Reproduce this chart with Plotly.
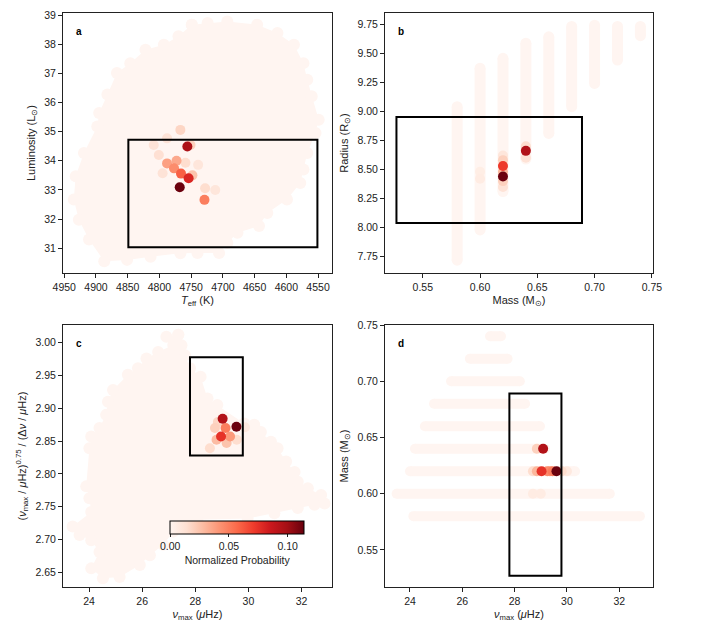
import plotly.graph_objects as go

# ---- data ----
# panel a: outline of the model cloud (Teff, L)
a_cloud_teff = [4749, 4724, 4693, 4646, 4614, 4588, 4573, 4567, 4560, 4549, 4554, 4567,
                4573, 4578, 4599, 4630, 4643, 4677, 4693, 4706, 4740, 4767, 4814, 4851,
                4887, 4911, 4927, 4935, 4932, 4919, 4898, 4895, 4882, 4867, 4846, 4822,
                4793, 4770]
a_cloud_lum = [38.67, 38.73, 38.78, 38.67, 38.38, 37.98, 37.35, 36.78, 36.21, 35.41, 34.95, 34.27,
               33.70, 33.24, 32.67, 32.21, 31.76, 31.53, 31.18, 30.84, 30.84, 30.83, 30.71, 30.60,
               30.55, 31.30, 31.98, 32.67, 33.47, 34.27, 35.18, 35.64, 36.27, 37.01, 37.35, 37.81,
               37.98, 38.27]
# panel a: high-probability models
a_teff = [4767, 4809, 4801, 4795, 4751, 4748, 4728, 4712, 4788, 4759, 4739, 4773,
          4788, 4777, 4729, 4766, 4754, 4756, 4768]
a_lum = [35.06, 34.54, 34.20, 33.57, 34.54, 33.50, 33.06, 33.00, 34.77, 33.93, 33.86, 34.00,
         33.91, 33.74, 32.66, 33.56, 33.40, 34.49, 33.09]
a_prob = [0.018, 0.012, 0.014, 0.012, 0.020, 0.025, 0.015, 0.010, 0.012, 0.015, 0.010, 0.035,
          0.038, 0.045, 0.050, 0.060, 0.080, 0.097, 0.113]
a_box = [4849, 4551, 31.03, 34.72]

# panel b: mass tracks (mass, radius range)
b_mass = [0.58, 0.60, 0.62, 0.64, 0.66, 0.68, 0.70, 0.72, 0.74]
b_rad_lo = [7.72, 7.98, 8.31, 8.59, 8.81, 9.04, 9.24, 9.44, 9.65]
b_rad_hi = [9.04, 9.37, 9.455, 9.585, 9.64, 9.73, 9.74, 9.73, 9.73]
b_hi_mass = [0.60, 0.60, 0.62, 0.62, 0.64, 0.62, 0.64, 0.62, 0.62, 0.62, 0.64, 0.62]
b_hi_rad = [8.42, 8.48, 8.62, 8.35, 8.60, 8.58, 8.70, 8.40, 8.48, 8.53, 8.66, 8.44]
b_hi_prob = [0.006, 0.005, 0.010, 0.012, 0.012, 0.020, 0.015, 0.020, 0.030, 0.072, 0.095, 0.113]
b_box = [0.527, 0.689, 8.04, 8.95]

# panel c: outline of the model cloud (numax, ratio)
c_cloud_nu = [27.36, 27.48, 27.61, 27.80, 28.20, 28.46, 28.83, 29.84, 30.22, 30.47, 30.85, 31.10,
              31.42, 31.74, 31.86, 32.24, 32.74, 32.87, 32.49, 31.86, 30.98, 29.97, 28.08, 27.17,
              26.79, 26.29, 25.91, 25.15, 24.52, 24.08, 24.39, 24.08, 23.64, 23.38, 24.08, 24.01,
              23.89, 24.01, 24.08, 24.39, 24.64, 24.71, 24.90, 25.46, 25.84, 26.16, 26.60, 27.17,
              26.91]
c_cloud_ratio = [3.012, 2.996, 2.981, 2.961, 2.948, 2.915, 2.905, 2.877, 2.875, 2.864, 2.849, 2.839,
                 2.819, 2.803, 2.788, 2.778, 2.768, 2.755, 2.753, 2.748, 2.740, 2.732, 2.730, 2.712,
                 2.692, 2.676, 2.661, 2.643, 2.641, 2.656, 2.681, 2.699, 2.707, 2.720, 2.742, 2.763,
                 2.781, 2.839, 2.857, 2.870, 2.890, 2.910, 2.928, 2.951, 2.961, 2.976, 2.986, 2.9965,
                 3.009]
c_nu = [29.87, 28.55, 29.56, 28.85, 28.74, 29.18, 28.80, 29.31, 29.14, 28.97, 29.03, 29.55]
c_ratio = [2.871, 2.839, 2.852, 2.879, 2.870, 2.847, 2.852, 2.857, 2.870, 2.857, 2.884, 2.872]
c_prob = [0.008, 0.015, 0.015, 0.018, 0.020, 0.025, 0.028, 0.040, 0.050, 0.075, 0.095, 0.113]
c_box = [27.80, 29.79, 2.828, 2.978]

# panel d: mass rows (mass, numax range)
d_mass = [0.58, 0.60, 0.62, 0.64, 0.66, 0.68, 0.70, 0.72, 0.74]
d_nu_lo = [24.13, 23.49, 24.00, 24.19, 24.57, 24.92, 25.57, 26.29, 27.06]
d_nu_hi = [32.79, 31.64, 30.31, 29.16, 28.97, 28.40, 28.20, 27.73, 27.48]
d_hi_nu = [28.70, 29.00, 30.00, 29.80, 28.70, 28.85, 28.85, 29.35, 29.25, 29.45, 29.03, 29.09, 29.60]
d_hi_mass = [0.60, 0.60, 0.62, 0.62, 0.62, 0.64, 0.62, 0.62, 0.62, 0.62, 0.62, 0.64, 0.62]
d_hi_prob = [0.006, 0.006, 0.008, 0.015, 0.015, 0.020, 0.030, 0.040, 0.045, 0.050, 0.075, 0.095, 0.113]
d_box = [27.80, 29.79, 0.527, 0.689]

PMAX = 0.114
CLOUD = '#fff5f1'
FONT = 'Liberation Sans, Arial, sans-serif'
# page is offset by the default 8 px body margin
W, H, OFF = 701, 630, 8


def px_x(p):
    return (p - OFF) / W


def px_y(p):
    return 1 - (p - OFF) / H


fig = go.Figure()


def cloud(xs, ys, xa, ya):
    fig.add_trace(go.Scatter(x=xs + xs[:1], y=ys + ys[:1], mode='lines+markers', fill='toself',
                             fillcolor=CLOUD, line=dict(width=0, color=CLOUD),
                             marker=dict(size=12, color=CLOUD), xaxis=xa, yaxis=ya,
                             hoverinfo='skip', showlegend=False))


def tracks(fixed, lo, hi, vertical, width, xa, ya):
    xs, ys = [], []
    for f, a, b in zip(fixed, lo, hi):
        if vertical:
            xs += [f, f, None]
            ys += [a, b, None]
        else:
            xs += [a, b, None]
            ys += [f, f, None]
    fig.add_trace(go.Scatter(x=xs, y=ys, mode='lines+markers', line=dict(width=width, color=CLOUD),
                             marker=dict(size=width, color=CLOUD), xaxis=xa, yaxis=ya,
                             connectgaps=False, hoverinfo='skip', showlegend=False))


def models(xs, ys, ps, xa, ya, scale=False):
    order = sorted(range(len(ps)), key=lambda i: ps[i])
    fig.add_trace(go.Scatter(
        x=[xs[i] for i in order], y=[ys[i] for i in order], mode='markers',
        marker=dict(size=10, color=[ps[i] for i in order], colorscale='Reds', cmin=0, cmax=PMAX,
                    showscale=scale,
                    colorbar=dict(orientation='h', x=(237.2 - OFF) / W, xanchor='center',
                                  y=px_y(521), yanchor='top', len=134 / W, lenmode='fraction',
                                  thickness=13, xpad=0, ypad=0, outlinewidth=1, outlinecolor='black',
                                  ticks='outside', ticklen=3, tickcolor='#222',
                                  tickvals=[0, 0.05, 0.10], tickformat='.2f',
                                  tickfont=dict(size=10.5, color='#222'),
                                  title=dict(text='Normalized Probability', side='bottom',
                                             font=dict(size=10.5, color='#222')))),
        xaxis=xa, yaxis=ya, showlegend=False))


cloud(a_cloud_teff, a_cloud_lum, 'x', 'y')
models(a_teff, a_lum, a_prob, 'x', 'y')
tracks(b_mass, b_rad_lo, b_rad_hi, True, 11, 'x2', 'y2')
models(b_hi_mass, b_hi_rad, b_hi_prob, 'x2', 'y2')
cloud(c_cloud_nu, c_cloud_ratio, 'x3', 'y3')
models(c_nu, c_ratio, c_prob, 'x3', 'y3', scale=True)
tracks(d_mass, d_nu_lo, d_nu_hi, False, 10, 'x4', 'y4')
models(d_hi_nu, d_hi_mass, d_hi_prob, 'x4', 'y4')

for box, xr, yr in [(a_box, 'x', 'y'), (b_box, 'x2', 'y2'), (c_box, 'x3', 'y3'), (d_box, 'x4', 'y4')]:
    fig.add_shape(type='rect', xref=xr, yref=yr, x0=box[0], x1=box[1], y0=box[2], y1=box[3],
                  line=dict(color='black', width=2))

ax = dict(showline=True, mirror=True, linecolor='#222', linewidth=1, ticks='outside', ticklen=4,
          tickcolor='#222', showgrid=False, zeroline=False, automargin=False,
          tickfont=dict(size=10.5, color='#222'), title_font=dict(size=11, color='#222'))
xl = [px_x(63), px_x(332)]
xr = [px_x(385), px_x(653)]
yt = [px_y(273), px_y(13)]
yb = [px_y(587), px_y(325)]
numax_title = '<i>ν</i><sub>max</sub> (<i>μ</i>Hz)'

fig.update_layout(
    width=W, height=H, margin=dict(l=0, r=0, t=0, b=0, autoexpand=False),
    paper_bgcolor='white', plot_bgcolor='white', font=dict(family=FONT, color='#222'),
    xaxis=dict(ax, domain=xl, anchor='y', range=[4952, 4528], tick0=4550, dtick=50,
               title=dict(text='<i>T</i><sub>eff</sub> (K)', standoff=4)),
    yaxis=dict(ax, domain=yt, anchor='x', range=[30.15, 39.07], dtick=1,
               title=dict(text='Luminosity (L<sub>⊙</sub>)', standoff=6)),
    xaxis2=dict(ax, domain=xr, anchor='y2', range=[0.517, 0.751], dtick=0.05, tickformat='.2f',
                title=dict(text='Mass (M<sub>⊙</sub>)', standoff=4)),
    yaxis2=dict(ax, domain=yt, anchor='x2', range=[7.61, 9.845], dtick=0.25, tickformat='.2f',
                title=dict(text='Radius (R<sub>⊙</sub>)', standoff=6)),
    xaxis3=dict(ax, domain=xl, anchor='y3', range=[23.016, 33.15], dtick=2,
                title=dict(text=numax_title, standoff=4)),
    yaxis3=dict(ax, domain=yb, anchor='x3', range=[2.6276, 3.027], dtick=0.05, tickformat='.2f',
                title=dict(text='(<i>ν</i><sub>max</sub> / <i>μ</i>Hz)<sup>0.75</sup> / (Δ<i>ν</i> / <i>μ</i>Hz)',
                           standoff=6)),
    xaxis4=dict(ax, domain=xr, anchor='y4', range=[23.045, 33.29], dtick=2,
                title=dict(text=numax_title, standoff=4)),
    yaxis4=dict(ax, domain=yb, anchor='x4', range=[0.517, 0.75], dtick=0.05, tickformat='.2f',
                title=dict(text='Mass (M<sub>⊙</sub>)', standoff=6)),
)

for lab, xa, ya in [('a', 'x', 'y'), ('b', 'x2', 'y2'), ('c', 'x3', 'y3'), ('d', 'x4', 'y4')]:
    fig.add_annotation(text='<b>%s</b>' % lab, xref=xa + ' domain', yref=ya + ' domain',
                       x=0.06, y=0.93, xanchor='center', yanchor='middle', showarrow=False,
                       font=dict(size=10, color='black'))

fig.write_html('out.html')
